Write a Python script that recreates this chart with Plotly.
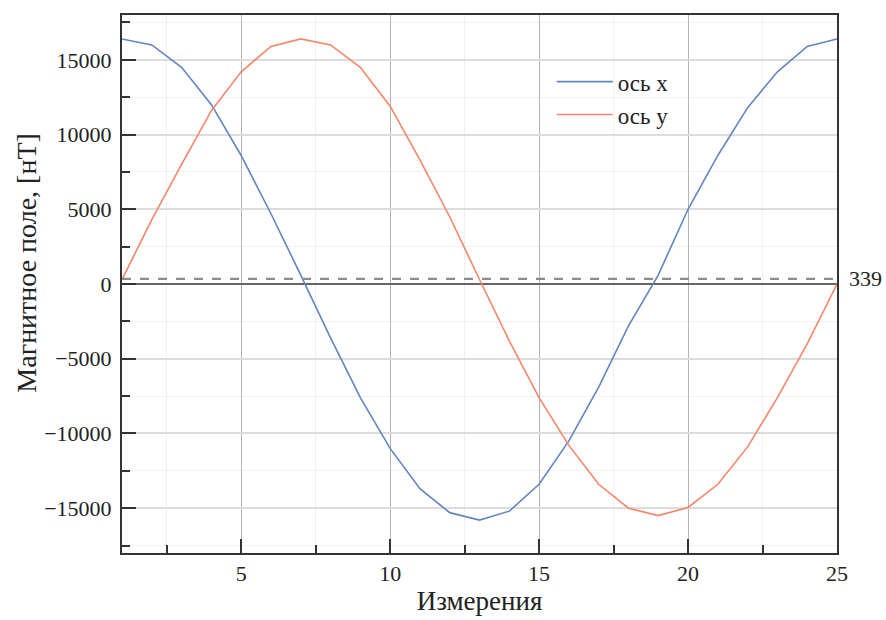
import plotly.graph_objects as go

measurements = list(range(1, 26))
axis_x = [16400, 16000, 14500, 12000, 8600, 4700, 600, -3600, -7600, -11000,
          -13700, -15300, -15800, -15200, -13400, -10500, -6900, -2800, 600,
          5000, 8600, 11800, 14200, 15900, 16400]
axis_y = [300, 4300, 8000, 11600, 14200, 15900, 16400, 16000, 14500, 11900,
          8300, 4500, 300, -3800, -7600, -10800, -13400, -15000, -15500, -14950,
          -13400, -10900, -7600, -4000, 0]
mean_level = 339
series_names = ["ось x", "ось y"]
x_ticks = [5, 10, 15, 20, 25]
y_ticks = [-15000, -10000, -5000, 0, 5000, 10000, 15000]

FONT = "Liberation Serif, Times New Roman, serif"

fig = go.Figure()
fig.add_trace(go.Scatter(x=measurements, y=axis_x, mode="lines", name=series_names[0],
                         line=dict(color="#6185c0", width=1.6)))
fig.add_trace(go.Scatter(x=measurements, y=axis_y, mode="lines", name=series_names[1],
                         line=dict(color="#f5866a", width=1.6)))

fig.add_shape(type="line", xref="paper", x0=0, x1=1, yref="y", y0=mean_level, y1=mean_level,
              line=dict(color="#8c8c8c", width=2.2, dash="dash"), layer="above")
fig.add_annotation(xref="paper", x=1, yref="y", y=mean_level, text=str(mean_level),
                   showarrow=False, xanchor="left", xshift=10,
                   font=dict(family=FONT, size=22, color="#222"))
fig.add_annotation(xref="paper", x=-0.134, yref="paper", y=0.54, text="Магнитное поле, [нТ]",
                   showarrow=False, textangle=-90, xanchor="center", yanchor="middle",
                   font=dict(family=FONT, size=28, color="#222"))

fig.update_layout(
    width=886, height=620,
    margin=dict(l=122, r=49, t=15, b=67),
    paper_bgcolor="white", plot_bgcolor="white",
    font=dict(family=FONT, size=22, color="#222"),
    showlegend=True,
    legend=dict(x=0.601, y=0.916, xanchor="left", yanchor="top",
                bgcolor="rgba(0,0,0,0)", font=dict(family=FONT, size=23, color="#222"),
                itemwidth=56, tracegroupgap=0),
)
fig.update_xaxes(
    range=[1, 25], tickvals=x_ticks, ticks="inside", ticklen=14, tickwidth=2,
    tickcolor="#333", showline=True, linecolor="#333", linewidth=2, mirror=True,
    showgrid=True, gridcolor="#b5b5b5", gridwidth=1, zeroline=False, automargin=False,
    minor=dict(dtick=2.5, tick0=0, ticks="inside", ticklen=8, tickwidth=2, tickcolor="#333",
               showgrid=True, gridcolor="#f0f0f0", gridwidth=1),
    title=dict(text="Измерения", font=dict(family=FONT, size=27), standoff=4),
    tickfont=dict(family=FONT, size=22),
)
fig.update_yaxes(
    range=[-18000, 18000], tickvals=y_ticks, ticks="inside", ticklen=14, tickwidth=2,
    tickcolor="#333", showline=True, linecolor="#333", linewidth=2, mirror=True,
    showgrid=True, gridcolor="#dcdcdc", gridwidth=1.5, automargin=False,
    zeroline=True, zerolinecolor="#666", zerolinewidth=1.5,
    minor=dict(dtick=2500, tick0=0, ticks="inside", ticklen=8, tickwidth=2, tickcolor="#333",
               showgrid=True, gridcolor="#f2f2f2", gridwidth=1),
    tickfont=dict(family=FONT, size=22), tickformat="d", ticklabelstandoff=4,
)

fig.write_html("out.html", config={"displayModeBar": False},
               post_script="document.body.style.margin='0';document.body.style.overflow='hidden';")
